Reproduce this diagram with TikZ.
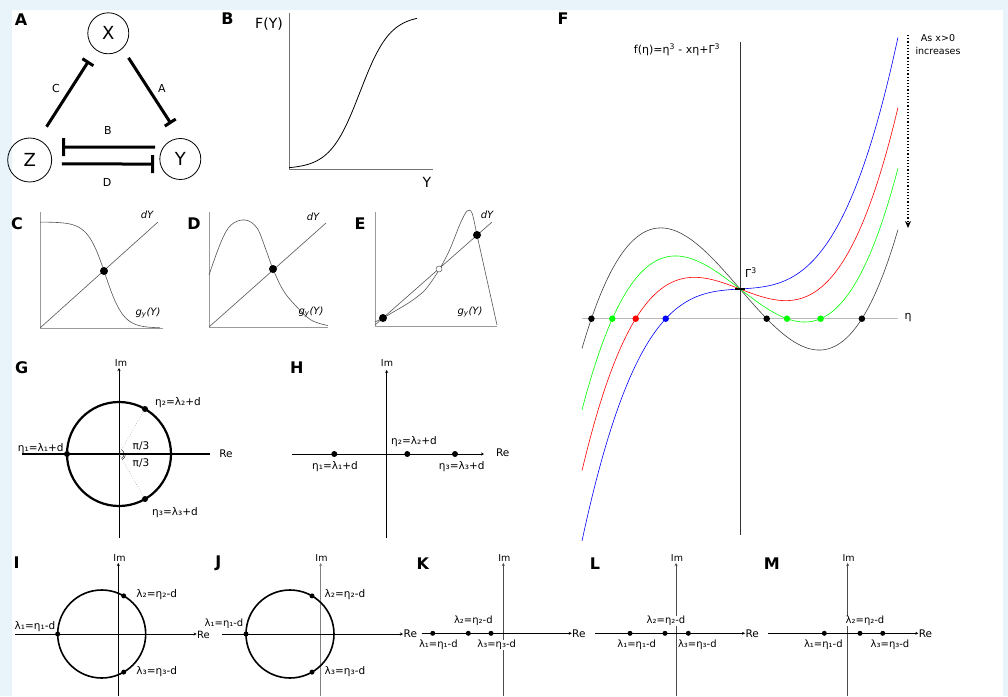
\documentclass[tikz,border=0pt]{standalone}
\usepackage{fontspec}
\setmainfont{DejaVu Sans}
\usetikzlibrary{arrows.meta}
\definecolor{bgblue}{HTML}{E8F3FA}
\definecolor{axgray}{HTML}{9A9A9A}
\definecolor{cvgray}{HTML}{555555}
\begin{document}
\begin{tikzpicture}[x=1pt, y=-1pt, >=Stealth,
  pnl/.style={font=\fontsize{16}{18}\selectfont\bfseries, inner sep=0pt},
  lbl/.style={font=\fontsize{10.5}{12}\selectfont, inner sep=1pt},
  sml/.style={font=\fontsize{9.5}{13}\selectfont, inner sep=1pt},
  itl/.style={font=\fontsize{10}{12}\selectfont\itshape, inner sep=1pt},
  wb/.style={font=\fontsize{10}{12}\selectfont, fill=white, inner sep=0.6pt},
  dot/.style={circle, fill, inner sep=0pt, minimum size=#1},
  dot/.default=5pt,
  inh/.style={line width=3pt, -{Bar[width=#1]}},
  spc/.style={circle, draw, line width=0.8pt, inner sep=0pt, font=\fontsize{18}{20}\selectfont},
  axis/.style={line width=0.8pt, axgray},
  curve/.style={line width=0.6pt, cvgray},
  im/.style={line width=1pt, -{Stealth[length=3pt, width=3pt]}}]
\useasboundingbox (0,0) rectangle (1008,696);
\fill[bgblue] (0,0) rectangle (1008,696);
\fill[white] (12,10) rectangle (1003,696);

% A: three-node loop
\node[pnl] (pA) at (21,20) {A};
\node[spc, minimum size=41pt] (X) at (108.3,33.3) {X};
\node[spc, minimum size=41pt] (Y) at (180.3,159) {Y};
\node[spc, minimum size=44pt] (Z) at (29.7,160) {Z};
\draw[inh=13pt, shorten <=15pt, shorten >=13pt] (Z.67) -- (X.233);
\draw[inh=13pt, shorten <=11pt, shorten >=17pt] (X.-47) -- (Y.90);
\draw[inh=18pt, shorten <=8pt, shorten >=14pt] (Y.145) -- (Z.35);
\draw[inh=18pt, shorten <=10pt, shorten >=6pt] (Z.-10) -- (Y.194);
\node[font=\fontsize{11}{13}\selectfont] (lC) at (56,88) {C};
\node[font=\fontsize{11}{13}\selectfont] (lA) at (162,88) {A};
\node[font=\fontsize{11}{13}\selectfont] (lB) at (108,130) {B};
\node[font=\fontsize{11}{13}\selectfont] (lD) at (107,182) {D};

% B: sigmoid
\node[pnl] (pB) at (227.5,19) {B};
\node[font=\fontsize{14}{16}\selectfont] (FY) at (269,24) {F(Y)};
\node[font=\fontsize{14}{16}\selectfont] (Yax) at (427,182) {Y};
\draw[line width=0.8pt, black!55] (289,13) -- (289,169) -- (433,169);
\draw[line width=0.8pt] plot[domain=289:417, samples=80] (\x, {169-154/(1+exp(-(\x-360)/15))});

% C
\node[pnl] (pC) at (17,224) {C};
\draw[axis] (40,212) -- (40,328) -- (163,328);
\draw[curve] (40,328) -- (158,222);
\draw[curve] plot[domain=40:160, samples=80] (\x, {222+106/(1+exp(-(\x-105.4)/9))});
\node[dot=8pt] (c1) at (104,271) {};
\node[itl] (cdY) at (147,215) {dY};
\node[itl] (cgY) at (148,313) {g\textsubscript{y}(Y)};

% D
\node[pnl] (pD) at (194,224) {D};
\draw[axis] (209,212) -- (209,327) -- (328,327);
\draw[curve] (209,327) -- (326,223);
\draw[curve] plot[smooth, tension=0.6] coordinates {(209,275) (221,242) (231,225) (245,220) (257,228) (266,250) (273,269) (283,290) (295,305) (311,320) (328,325.5)};
\node[dot=8pt] (d1) at (273,269) {};
\node[itl] (ddY) at (313,217) {dY};
\node[itl] (dgY) at (311,312) {g\textsubscript{y}(Y)};

% E
\node[pnl] (pE) at (360,224) {E};
\draw[axis] (375,212) -- (375,326) -- (497,326);
\draw[curve] (375,325) -- (492,222);
\draw[curve] plot[smooth, tension=0.5] coordinates {(375,322) (383,318) (395,311) (410,302) (425,290) (439,270) (450,249) (460,224) (467,211) (472,213) (477,235) (487,280) (497,325)};
\node[dot=8pt] (e1) at (383,318) {};
\node[dot=8pt] (e3) at (477,235) {};
\node[circle, draw=cvgray, fill=white, line width=0.5pt, inner sep=0pt, minimum size=6pt] (e2) at (439,269) {};
\node[itl] (edY) at (487,215) {dY};
\node[itl] (egY) at (470,312) {g\textsubscript{y}(Y)};

% F: cubic family
\node[pnl] (pF) at (563,19) {F};
\draw[gray!55, line width=1.5pt] (582,318.7) -- (898,318.7);
\draw[black!80, line width=0.7pt] (740,42) -- (740,535);
\foreach \col/\xx in {black!75/1.883, green/1.25, red/0.624, blue/-0.1}
  \draw[\col, line width=0.6pt] plot[domain=-1.58:1.58, samples=120, smooth] ({740+100*\x}, {318.7-61.4*(\x*\x*\x-(\xx)*\x+0.484)});
\draw[line width=2pt] (735,289) -- (745,289);
\node[dot=6.5pt] (fb1) at (591.4,318.7) {};
\node[dot=6.5pt] (fb2) at (766.7,318.7) {};
\node[dot=6.5pt] (fb3) at (861.9,318.7) {};
\node[dot=6.5pt, green] (fg1) at (612.3,318.7) {};
\node[dot=6.5pt, green] (fg2) at (787,318.7) {};
\node[dot=6.5pt, green] (fg3) at (820.6,318.7) {};
\node[dot=6.5pt, red] (fr1) at (635.7,318.7) {};
\node[dot=6.5pt, blue] (fu1) at (665.7,318.7) {};
\node[font=\fontsize{11}{13}\selectfont] (feta) at (908,318) {η};
\node[font=\fontsize{11}{13}\selectfont] (ftit) at (677,50) {f(η)=η\textsuperscript{3} - xη+Γ\textsuperscript{3}};
\node[font=\fontsize{11}{13}\selectfont] (fG3) at (751,273) {Γ\textsuperscript{3}};
\coordinate (atop) at (908,35);
\coordinate (abot) at (908,228);
\draw[dotted, line width=1.2pt, -{Stealth[length=7pt, width=6pt]}] (atop) -- (abot);
\node[sml, align=center] (fincr) at (938,45) {As x>0\\increases};

% G: circle, three roots
\node[pnl] (pG) at (21.7,368) {G};
\coordinate (Gc) at (119,454);
\draw[im] (119,538) -- (119,368);
\draw[line width=1.2pt] (22,454) -- (210,454);
\node[sml] (gIm) at (121,363) {Im};
\node[lbl] (gRe) at (226,454) {Re};
\draw[line width=2.2pt] (Gc) circle[radius=52];
\node[dot=6pt] (g1) at (67,454) {};
\node[dot=6pt] (g2) at (145,409) {};
\node[dot=6pt] (g3) at (145,499) {};
\draw[gray, dotted, line width=0.5pt] (Gc) -- (g2);
\draw[gray, dotted, line width=0.5pt] (Gc) -- (g3);
\draw[line width=0.4pt] (Gc) ++(5,0) arc[start angle=0, end angle=-60, radius=5];
\draw[line width=0.4pt] (Gc) ++(5,0) arc[start angle=0, end angle=60, radius=5];
\draw[line width=0.4pt] (Gc) ++(6.5,0) arc[start angle=0, end angle=60, radius=6.5];
\node[lbl] (gl1) at (40.7,449) {η₁=λ₁+d};
\node[lbl] (gl2) at (178,403) {η₂=λ₂+d};
\node[lbl] (gl3) at (175,513) {η₃=λ₃+d};
\node[lbl] (gp1) at (141,446) {π/3};
\node[lbl] (gp2) at (141,463) {π/3};

% H: three real roots
\node[pnl] (pH) at (296.7,368) {H};
\draw[im] (386.7,538) -- (386.7,370);
\draw[im] (291.7,454) -- (484,454);
\node[sml] (hIm) at (387,363) {Im};
\node[lbl] (hRe) at (502.7,453) {Re};
\node[dot=6pt] (h1) at (334.3,454) {};
\node[dot=6pt] (h2) at (407.3,454) {};
\node[dot=6pt] (h3) at (455,454) {};
\node[lbl] (hl1) at (335,466.7) {η₁=λ₁+d};
\node[lbl] (hl2) at (414,441.7) {η₂=λ₂+d};
\node[lbl] (hl3) at (461.7,466.7) {η₃=λ₃+d};

% I
\node[pnl] (pI) at (16.7,563) {I};
\draw[im] (118.3,696) -- (118.3,563);
\draw[im] (15,634) -- (196.7,634);
\node[sml] (iIm) at (119.5,558) {Im};
\node[font=\fontsize{10}{12}\selectfont, anchor=west, inner sep=0pt] (iRe) at (197,634.5) {Re};
\draw[line width=1.6pt] (101.7,634) circle[radius=44];
\node[dot] (i1) at (57.7,634) {};
\node[dot] (i2) at (123.7,595.9) {};
\node[dot] (i3) at (123.7,672.1) {};
\node[lbl] (il1) at (35,626.7) {λ₁=η₁-d};
\node[lbl] (il2) at (156.7,595) {λ₂=η₂-d};
\node[lbl] (il3) at (156.7,671.7) {λ₃=η₃-d};

% J
\node[pnl] (pJ) at (218.3,563) {J};
\draw[im, gray] (320.7,696) -- (320.7,563);
\draw[im] (221.7,634) -- (403,634);
\node[sml] (jIm) at (321.5,558) {Im};
\node[lbl, anchor=west, inner sep=0pt] (jRe) at (403.5,634) {Re};
\draw[line width=1.6pt] (290,634) circle[radius=44];
\node[dot] (j1) at (246,634) {};
\node[dot] (j2) at (312,595.9) {};
\node[dot] (j3) at (312,672.1) {};
\node[font=\fontsize{10}{12}\selectfont, inner sep=0.5pt] (jl1) at (224,623.5) {λ₁=η₁-d};
\node[lbl] (jl2) at (345,595) {λ₂=η₂-d};
\node[lbl] (jl3) at (345,671.7) {λ₃=η₃-d};

% K
\node[pnl] (pK) at (422.7,564) {K};
\draw[im, black!70] (503.3,696) -- (503.3,563);
\draw[im] (421.7,633.3) -- (571.7,633.3);
\node[sml] (kIm) at (504.3,558) {Im};
\node[lbl, anchor=west, inner sep=0pt] (kRe) at (572,633.3) {Re};
\node[dot] (k1) at (432.7,633.3) {};
\node[dot] (k2) at (468.3,633.3) {};
\node[dot] (k3) at (491,633.3) {};
\node[wb] (kl1) at (438.3,645) {λ₁=η₁-d};
\node[wb] (kl2) at (473.3,621) {λ₂=η₂-d};
\node[wb] (kl3) at (496.7,645) {λ₃=η₃-d};

% L
\node[pnl] (pL) at (595,564) {L};
\draw[im, black!70] (676,696) -- (676,563);
\draw[im] (595,633.3) -- (745,633.3);
\node[sml] (lIm) at (677,558) {Im};
\node[lbl, anchor=west, inner sep=0pt] (lRe) at (745.3,633.3) {Re};
\node[dot] (l1) at (630,633.3) {};
\node[dot] (l2) at (665,633.3) {};
\node[dot] (l3) at (688.3,633.3) {};
\node[wb] (ll1) at (636.7,645) {λ₁=η₁-d};
\node[wb] (ll2) at (666,621) {λ₂=η₂-d};
\node[wb] (ll3) at (697.3,645) {λ₃=η₃-d};

% M
\node[pnl] (pM) at (771.7,564) {M};
\draw[im, black!70] (847.7,696) -- (847.7,563);
\draw[im] (768.3,633.3) -- (918.3,633.3);
\node[sml] (mIm) at (848.7,558) {Im};
\node[lbl, anchor=west, inner sep=0pt] (mRe) at (918.6,633.3) {Re};
\node[dot] (m1) at (824.3,633.3) {};
\node[dot] (m2) at (860,633.3) {};
\node[dot] (m3) at (882.7,633.3) {};
\node[wb] (ml1) at (823.3,645) {λ₁=η₁-d};
\node[wb] (ml2) at (865,621) {λ₂=η₂-d};
\node[wb] (ml3) at (890,645) {λ₃=η₃-d};
\end{tikzpicture}
\end{document}
